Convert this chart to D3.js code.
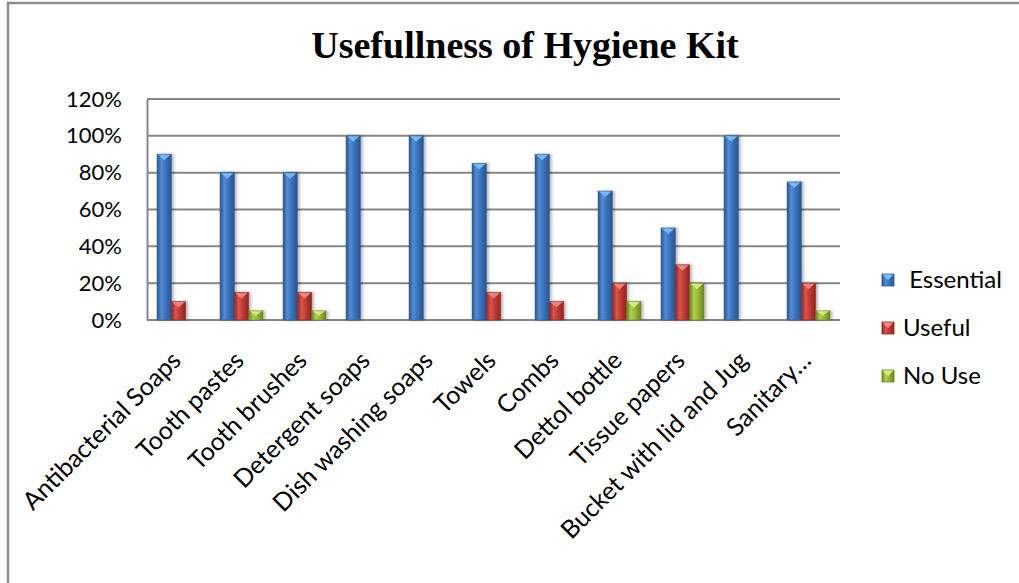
<!DOCTYPE html>
<html>
<head>
<meta charset="utf-8">
<script src="https://cdn.jsdelivr.net/npm/d3@7/dist/d3.min.js"></script>
<style>
body{margin:0;background:#fff;}
text{font-family:Lato,"Open Sans",sans-serif;fill:#000;}
</style>
</head>
<body>
<svg id="chart"></svg>
<script>
// data
var categories = ["Antibacterial Soaps","Tooth pastes","Tooth brushes","Detergent soaps",
	"Dish washing soaps","Towels","Combs","Dettol bottle","Tissue papers",
	"Bucket with lid and Jug","Sanitary\u2026"];
var essential = [0.90,0.80,0.80,1.00,1.00,0.85,0.90,0.70,0.50,1.00,0.75];
var useful    = [0.10,0.15,0.15,0.00,0.00,0.15,0.10,0.20,0.30,0.00,0.20];
var noUse     = [0.00,0.05,0.05,0.00,0.00,0.00,0.00,0.10,0.20,0.00,0.05];
var seriesNames = [" Essential","Useful","No Use"];
var yTicks = [0,0.2,0.4,0.6,0.8,1.0,1.2];

var W = 1019, H = 583;
var m = {t:99,l:147,r:179,b:263};

var svg = d3.select('#chart').attr('width',W).attr('height',H);

// colours: [dark edge, mid, light, cap]
var pal = [
	['#2a5592','#3a72bc','#528cd3','#7cc0f5'],
	['#8e2523','#c0392f','#d65650','#f28a88'],
	['#6a8420','#95b53a','#b0cf52','#d9ef86']
];

var defs = svg.append('defs');
pal.forEach(function(p,i){
	var g = defs.append('linearGradient').attr('id','grad'+i)
		.attr('x1','0%').attr('x2','100%').attr('y1','0%').attr('y2','0%');
	g.append('stop').attr('offset','0%').attr('stop-color',p[0]);
	g.append('stop').attr('offset','30%').attr('stop-color',p[2]);
	g.append('stop').attr('offset','60%').attr('stop-color',p[1]);
	g.append('stop').attr('offset','100%').attr('stop-color',p[0]);
});
var sh = defs.append('filter').attr('id','shadow')
	.attr('x','-20%').attr('y','-5%').attr('width','160%').attr('height','110%');
sh.append('feDropShadow').attr('dx',2).attr('dy',0).attr('stdDeviation',1.5)
	.attr('flood-color','#000').attr('flood-opacity',0.3);

// outer frame (only top and left edges show in the picture)
svg.append('line').attr('x1',7).attr('x2',W).attr('y1',3).attr('y2',3)
	.attr('stroke','#8c8c8c').attr('stroke-width',2.5);
svg.append('line').attr('x1',8).attr('x2',8).attr('y1',2).attr('y2',H)
	.attr('stroke','#8c8c8c').attr('stroke-width',2.5);

svg.append('text')
	.attr('x',525).attr('y',58)
	.attr('text-anchor','middle')
	.style('font-family','"Liberation Serif","Times New Roman",serif')
	.style('font-weight','bold')
	.style('font-size','38px')
	.text('Usefullness of Hygiene Kit');

var x = d3.scaleBand().domain(categories).range([m.l, W-m.r]);
var xs = d3.scaleBand().domain([0,1,2]).range([0,x.bandwidth()]).paddingOuter(0.7);
var y = d3.scaleLinear().domain([0,1.2]).range([H-m.b, m.t]);

// gridlines
svg.append('g').selectAll('line').data(yTicks).enter().append('line')
	.attr('x1',m.l).attr('x2',W-m.r)
	.attr('y1',function(d){return y(d);}).attr('y2',function(d){return y(d);})
	.attr('stroke','#868686').attr('stroke-width',2);

// y axis
var yAxis = svg.append('g').attr('transform','translate('+m.l+',0)')
	.call(d3.axisLeft(y).tickValues(yTicks).tickSize(0).tickPadding(25)
		.tickFormat(d3.format('.0%')));
yAxis.select('.domain').attr('stroke','#868686').attr('stroke-width',2);
yAxis.selectAll('text').style('font-size','22px').style('font-family','Lato,sans-serif');

var series = [essential,useful,noUse];
series.forEach(function(vals,si){
	var data = vals.map(function(v,i){return {c:categories[i],v:v};})
		.filter(function(d){return d.v>0;});
	var bw = xs.bandwidth();
	var bars = svg.append('g').selectAll('g').data(data).enter().append('g');
	bars.append('rect')
		.attr('x',function(d){return x(d.c)+xs(si);})
		.attr('y',function(d){return y(d.v);})
		.attr('width',bw)
		.attr('height',function(d){return y(0)-y(d.v);})
		.attr('fill','url(#grad'+si+')')
		.attr('stroke',pal[si][0]).attr('stroke-opacity',0.6).attr('stroke-width',0.8)
		.attr('filter','url(#shadow)');
	// bevel cap on top of each bar
	bars.append('path')
		.attr('d',function(d){
			var x0 = x(d.c)+xs(si), yt = y(d.v);
			var dh = Math.min(6,(y(0)-yt)/2);
			return 'M'+(x0+1)+','+(yt+0.5)+'L'+(x0+bw-1)+','+(yt+0.5)+'L'+(x0+bw/2)+','+(yt+dh)+'Z';
		})
		.attr('fill',pal[si][3]).attr('opacity',0.9);
});

// x labels
svg.append('g').selectAll('text').data(categories).enter().append('text')
	.attr('transform',function(d){return 'translate('+(x(d)+x.bandwidth()/2+4)+',362) rotate(-45)';})
	.attr('text-anchor','end')
	.style('font-size','25px')
	.text(function(d){return d;});

// legend
var leg = svg.append('g').selectAll('g').data(seriesNames).enter().append('g')
	.attr('transform',function(d,i){return 'translate(882,'+(280+i*48)+')';});
leg.append('rect').attr('x',0).attr('y',-6).attr('width',12).attr('height',12)
	.attr('fill',function(d,i){return 'url(#grad'+i+')';})
	.attr('stroke',function(d,i){return pal[i][0];}).attr('stroke-width',0.8);
leg.append('path').attr('d','M0.5,-5.5L11.5,-5.5L6,0Z')
	.attr('fill',function(d,i){return pal[i][3];});
leg.append('text').attr('x',21).attr('y',8)
	.style('font-size','24px').style('white-space','pre')
	.text(function(d){return d;});
</script>
</body>
</html>
